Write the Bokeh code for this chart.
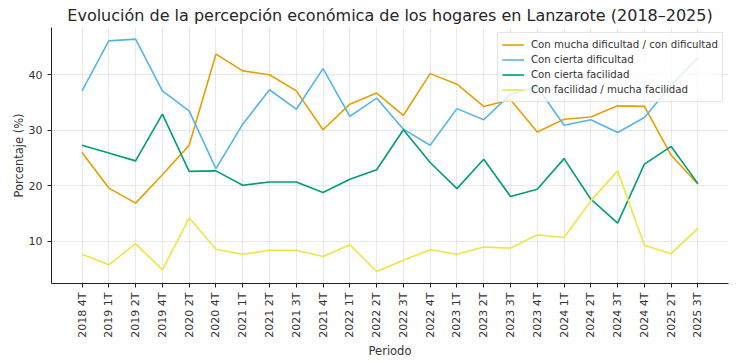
import math
from bokeh.plotting import figure
from bokeh.models import FactorRange, Range1d, Legend, LegendItem, FixedTicker
from bokeh.embed import file_html
from bokeh.resources import INLINE

periods = ["2018 4T", "2019 1T", "2019 2T", "2019 4T", "2020 2T", "2020 4T",
           "2021 1T", "2021 2T", "2021 3T", "2021 4T", "2022 1T", "2022 2T",
           "2022 3T", "2022 4T", "2023 1T", "2023 2T", "2023 3T", "2023 4T",
           "2024 1T", "2024 2T", "2024 3T", "2024 4T", "2025 2T", "2025 3T"]

mucha_dificultad = [26.0, 19.6, 16.9, 22.0, 27.3, 43.7, 40.7, 40.0, 37.1, 30.1,
                    34.7, 36.7, 32.7, 40.2, 38.3, 34.3, 35.5, 29.7, 32.0, 32.4,
                    34.4, 34.3, 25.5, 20.3]
cierta_dificultad = [37.1, 46.1, 46.4, 37.1, 33.5, 23.1, 31.1, 37.3, 33.8, 41.1,
                     32.5, 35.8, 30.2, 27.3, 33.9, 31.9, 36.5, 37.8, 30.9, 31.9,
                     29.6, 32.3, 38.1, 43.1]
cierta_facilidad = [27.3, 25.9, 24.5, 32.9, 22.6, 22.7, 20.1, 20.7, 20.7, 18.8,
                    21.2, 22.9, 30.1, 24.2, 19.5, 24.8, 18.1, 19.4, 24.9, 17.6,
                    13.3, 23.9, 27.1, 20.4]
facilidad = [7.7, 5.8, 9.6, 4.9, 14.2, 8.6, 7.7, 8.4, 8.4, 7.3,
             9.4, 4.6, 6.6, 8.5, 7.7, 9.0, 8.8, 11.2, 10.7, 17.3,
             22.7, 9.3, 7.8, 12.4]

series_names = ["Con mucha dificultad / con dificultad", "Con cierta dificultad",
                "Con cierta facilidad", "Con facilidad / mucha facilidad"]
series_values = [mucha_dificultad, cierta_dificultad, cierta_facilidad, facilidad]
colors = ["#E69F00", "#56B4E9", "#009E73", "#F0E442"]
y_ticks = [10, 20, 30, 40]

FONT = "DejaVu Sans"
TXT = "#333333"

p = figure(
    x_range=FactorRange(factors=periods, range_padding=0.64, range_padding_units="absolute"),
    y_range=Range1d(2.43, 48.5),
    frame_width=677, frame_height=256,
    min_border_left=30, min_border_right=6, min_border_top=0, min_border_bottom=0,
    output_backend="svg", toolbar_location=None,
    title="Evolución de la percepción económica de los hogares en Lanzarote (2018–2025)",
)
p.margin = (0, 0, 0, 8)

p.title.text_font = FONT
p.title.text_font_size = "16px"
p.title.text_font_style = "normal"
p.title.text_color = "#262626"
p.title.align = "center"
p.title.standoff = 6

p.outline_line_color = None
p.background_fill_color = "white"

items = []
for name, vals, col in zip(series_names, series_values, colors):
    r = p.line(x=periods, y=vals, line_color=col, line_width=1.6)
    items.append(LegendItem(label=name, renderers=[r]))

legend = Legend(items=items, location="top_right")
legend.margin = 5
legend.padding = 4
legend.spacing = 0
legend.label_text_font = FONT
legend.label_text_font_size = "10.2px"
legend.label_text_color = TXT
legend.label_height = 15
legend.glyph_height = 15
legend.glyph_width = 22
legend.label_standoff = 7
legend.border_line_color = "#cccccc"
legend.border_line_width = 1
legend.background_fill_alpha = 0.8
p.add_layout(legend)

for ax in (p.xaxis[0], p.yaxis[0]):
    ax.axis_line_color = "#222222"
    ax.axis_line_width = 1
    ax.major_tick_line_color = "#222222"
    ax.major_tick_out = 4
    ax.major_tick_in = 0
    ax.minor_tick_line_color = None
    ax.major_label_text_font = FONT
    ax.major_label_text_font_size = "11px"
    ax.major_label_text_color = TXT
    ax.axis_label_text_font = FONT
    ax.axis_label_text_font_size = "11.5px"
    ax.axis_label_text_font_style = "normal"
    ax.axis_label_text_color = TXT

p.xaxis.axis_label = "Periodo"
p.xaxis.major_label_orientation = math.pi / 2
p.xaxis.axis_label_standoff = 3
p.yaxis.axis_label = "Porcentaje (%)"
p.yaxis.ticker = FixedTicker(ticks=y_ticks)
p.yaxis.axis_label_standoff = 0

for g in (p.xgrid[0], p.ygrid[0]):
    g.grid_line_color = "#d4d4d4"
    g.grid_line_dash = "2 1"
    g.grid_line_alpha = 0.8

open("out.html", "w").write(file_html(p, INLINE))
